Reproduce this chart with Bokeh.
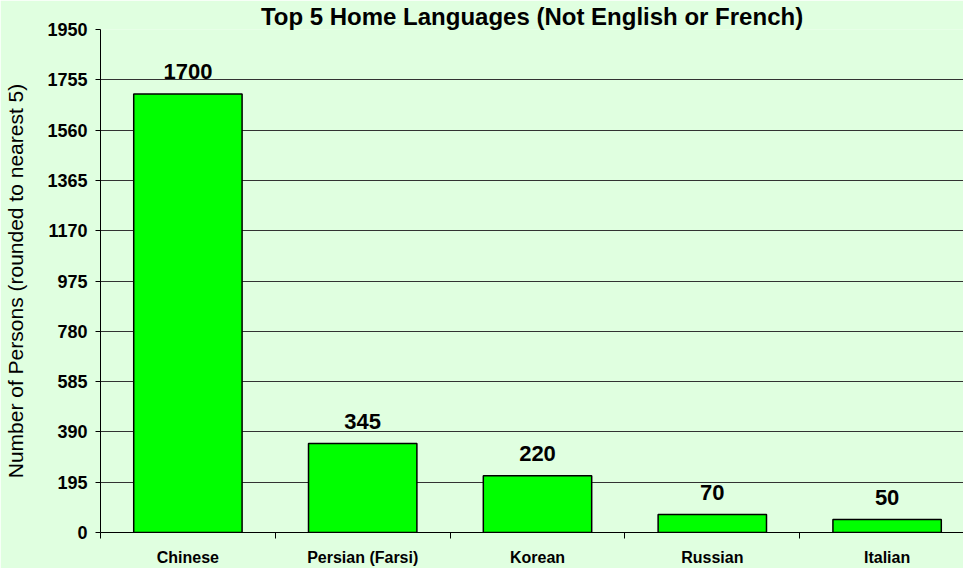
from bokeh.plotting import figure
from bokeh.models import Range1d, FixedTicker, ColumnDataSource
from bokeh.core.properties import value
from bokeh.embed import file_html
from bokeh.resources import INLINE

categories = ["Chinese", "Persian (Farsi)", "Korean", "Russian", "Italian"]
persons = [1700, 345, 220, 70, 50]
y_ticks = [0, 195, 390, 585, 780, 975, 1170, 1365, 1560, 1755, 1950]
title_text = "Top 5 Home Languages (Not English or French)"
y_label = "Number of Persons (rounded to nearest 5)"

BG = "#E0FFE0"
centers = [i + 0.5 for i in range(len(categories))]
bounds = [float(i) for i in range(len(categories) + 1)]

src = ColumnDataSource(dict(x=centers, top=persons, lbl=[str(v) for v in persons]))

p = figure(width=963, height=568,
           x_range=Range1d(0, 4.937), y_range=Range1d(0, 1950),
           output_backend="svg", toolbar_location=None)

p.background_fill_color = BG
p.border_fill_color = BG
p.outline_line_color = None
p.min_border_left = 100
p.min_border_right = 0
p.min_border_bottom = 36
p.min_border_top = 20

p.title.text = title_text
p.title.align = "center"
p.title.text_font = "Liberation Sans"
p.title.text_font_size = "24px"
p.title.text_font_style = "bold"
p.title.text_color = "#000000"
p.title.standoff = 0
p.title.offset = 0

p.xgrid.visible = False
p.ygrid.grid_line_color = "#333333"
p.ygrid.grid_line_width = 1
p.ygrid.ticker = FixedTicker(ticks=y_ticks)

ya = p.yaxis[0]
ya.ticker = FixedTicker(ticks=y_ticks)
ya.axis_line_color = "#000000"
ya.major_tick_line_color = "#000000"
ya.major_tick_out = 5
ya.major_tick_in = 0
ya.minor_tick_line_color = None
ya.major_label_text_font = "Liberation Sans"
ya.major_label_text_font_size = "18px"
ya.major_label_text_font_style = "bold"
ya.major_label_text_color = "#000000"
ya.major_label_standoff = 8
ya.axis_label = y_label
ya.axis_label_text_font = "Liberation Sans"
ya.axis_label_text_font_size = "21px"
ya.axis_label_text_font_style = "normal"
ya.axis_label_text_color = "#000000"
ya.axis_label_standoff = 17

xa = p.xaxis[0]
xa.ticker = FixedTicker(ticks=centers, minor_ticks=bounds)
xa.major_label_overrides = {c: n for c, n in zip(centers, categories)}
xa.axis_line_color = "#000000"
xa.major_tick_line_color = None
xa.major_tick_out = 0
xa.major_tick_in = 0
xa.minor_tick_line_color = "#000000"
xa.minor_tick_out = 6
xa.minor_tick_in = 0
xa.major_label_text_font = "Liberation Sans"
xa.major_label_text_font_size = "16px"
xa.major_label_text_font_style = "bold"
xa.major_label_text_color = "#000000"
xa.major_label_standoff = 10

p.vbar(x="x", top="top", bottom=0, width=0.62, source=src,
       fill_color="#00FF00", line_color="#000000", line_width=1.5)

p.text(x="x", y="top", text="lbl", source=src,
       text_align="center", text_baseline="alphabetic", y_offset=-22,
       text_font=value("Liberation Sans"), text_font_size="22px",
       text_font_style="bold", text_color="#000000")

open("out.html", "w").write(file_html(p, INLINE))
